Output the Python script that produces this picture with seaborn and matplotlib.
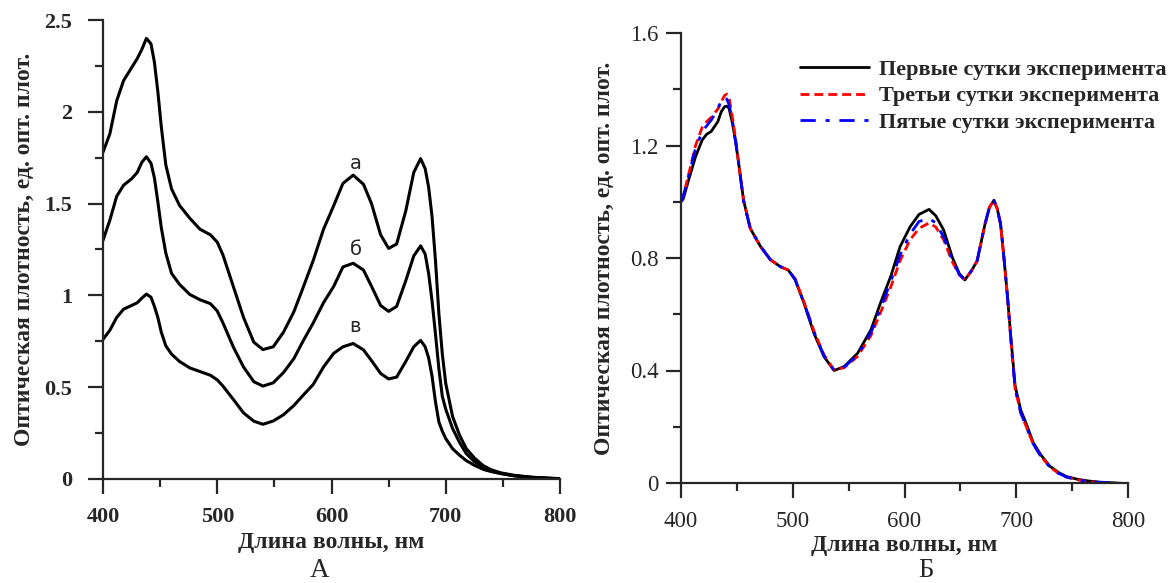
import numpy as np
import pandas as pd
import matplotlib
matplotlib.use("Agg")
import matplotlib.pyplot as plt
import seaborn as sns

# ---- data: panel A (three spectra а, б, в) ----
wl_left = [400, 406, 412, 418, 425, 430, 434, 438, 442, 445, 448, 451, 455, 460, 467, 476, 485, 494,
           500, 505, 514, 523, 532, 540, 549, 558, 567, 575, 584, 593, 602, 610, 619, 628, 635, 643,
           650, 657, 665, 672, 678, 682, 685, 688, 691, 694, 697, 700, 706, 712, 718, 725, 733, 740,
           748, 760, 775, 790, 800]
curve_a = [1.78, 1.88, 2.06, 2.17, 2.24, 2.29, 2.34, 2.40, 2.37, 2.27, 2.11, 1.92, 1.71, 1.58, 1.49, 1.42, 1.36, 1.33,
           1.29, 1.22, 1.05, 0.88, 0.745, 0.705, 0.72, 0.80, 0.91, 1.04, 1.19, 1.36, 1.49, 1.61, 1.655, 1.605, 1.50, 1.33,
           1.256, 1.28, 1.46, 1.67, 1.745, 1.69, 1.59, 1.43, 1.19, 0.90, 0.68, 0.52, 0.34, 0.24, 0.165, 0.115, 0.072, 0.05,
           0.034, 0.02, 0.01, 0.005, 0.002]
curve_b = [1.30, 1.41, 1.54, 1.60, 1.635, 1.67, 1.725, 1.755, 1.72, 1.64, 1.51, 1.37, 1.23, 1.12, 1.06, 1.005, 0.976, 0.955,
           0.915, 0.85, 0.72, 0.61, 0.53, 0.506, 0.524, 0.58, 0.655, 0.75, 0.85, 0.96, 1.05, 1.155, 1.175, 1.138, 1.05, 0.945,
           0.913, 0.94, 1.08, 1.215, 1.27, 1.225, 1.12, 0.97, 0.79, 0.60, 0.45, 0.38, 0.275, 0.20, 0.138, 0.095, 0.064, 0.044,
           0.03, 0.018, 0.009, 0.004, 0.001]
curve_v = [0.76, 0.81, 0.88, 0.925, 0.945, 0.96, 0.985, 1.007, 0.99, 0.94, 0.88, 0.80, 0.725, 0.68, 0.64, 0.605, 0.585, 0.565,
           0.54, 0.506, 0.434, 0.36, 0.315, 0.298, 0.316, 0.35, 0.40, 0.455, 0.515, 0.61, 0.685, 0.72, 0.738, 0.703, 0.645, 0.575,
           0.545, 0.555, 0.64, 0.72, 0.755, 0.72, 0.66, 0.56, 0.42, 0.31, 0.26, 0.22, 0.165, 0.13, 0.10, 0.075, 0.052, 0.04,
           0.03, 0.017, 0.008, 0.003, 0.0]
curve_names = ["а", "б", "в"]
curve_label_pos = [(621, 1.72), (621, 1.25), (621, 0.83)]

# ---- data: panel Б (three days) ----
wl_right = [400, 402, 407, 413, 419, 423, 427, 433, 436, 439, 441, 443, 446, 449, 452, 456, 462, 471, 480, 489,
            496, 502, 510, 519, 528, 537, 546, 558, 570, 579, 588, 596, 605, 613, 622, 628, 635, 643, 649, 654,
            660, 665, 672, 676, 680, 683, 686, 689, 692, 696, 699, 704, 710, 715, 722, 730, 738, 745, 755, 765,
            775, 790, 800]
day1 = [1.00, 1.01, 1.08, 1.16, 1.22, 1.24, 1.25, 1.285, 1.32, 1.338, 1.34, 1.332, 1.28, 1.21, 1.125, 1.005, 0.905, 0.842, 0.794, 0.769,
        0.757, 0.724, 0.64, 0.532, 0.449, 0.40, 0.414, 0.461, 0.545, 0.645, 0.738, 0.84, 0.911, 0.955, 0.973, 0.95, 0.90, 0.80, 0.745, 0.722,
        0.755, 0.79, 0.92, 0.98, 1.005, 0.975, 0.92, 0.80, 0.67, 0.48, 0.345, 0.26, 0.20, 0.145, 0.10, 0.06, 0.037, 0.023, 0.013, 0.007,
        0.003, 0.0, -0.004]
day3 = [1.00, 1.02, 1.10, 1.20, 1.265, 1.285, 1.30, 1.33, 1.355, 1.378, 1.383, 1.37, 1.30, 1.22, 1.125, 1.005, 0.905, 0.842, 0.794, 0.769,
        0.757, 0.726, 0.645, 0.54, 0.455, 0.402, 0.41, 0.45, 0.525, 0.61, 0.70, 0.79, 0.865, 0.905, 0.925, 0.91, 0.865, 0.785, 0.74, 0.722,
        0.755, 0.79, 0.92, 0.98, 1.005, 0.975, 0.92, 0.80, 0.67, 0.47, 0.335, 0.25, 0.19, 0.14, 0.095, 0.057, 0.034, 0.021, 0.011, 0.005,
        0.001, -0.004, -0.01]
day5 = [1.00, 1.02, 1.095, 1.19, 1.25, 1.27, 1.29, 1.33, 1.36, 1.372, 1.365, 1.345, 1.29, 1.21, 1.125, 1.0, 0.905, 0.842, 0.794, 0.769,
        0.757, 0.725, 0.642, 0.537, 0.452, 0.40, 0.412, 0.455, 0.535, 0.625, 0.72, 0.81, 0.885, 0.93, 0.94, 0.925, 0.875, 0.79, 0.742, 0.722,
        0.755, 0.79, 0.92, 0.98, 1.005, 0.975, 0.92, 0.80, 0.67, 0.47, 0.335, 0.25, 0.19, 0.14, 0.095, 0.057, 0.034, 0.021, 0.011, 0.005,
        0.002, 0.0, -0.003]
day_names = ["Первые сутки эксперимента", "Третьи сутки эксперимента", "Пятые сутки эксперимента"]

x_ticks = [400, 500, 600, 700, 800]
x_ticklabels = ["400", "500", "600", "700", "800"]
yA_ticks = [0, 0.5, 1, 1.5, 2, 2.5]
yA_ticklabels = ["0", "0.5", "1", "1.5", "2", "2.5"]
yB_ticks = [0, 0.4, 0.8, 1.2, 1.6]
yB_ticklabels = ["0", "0.4", "0.8", "1.2", "1.6"]

xlabel = "Длина волны, нм"
ylabel = "Оптическая плотность, ед. опт. плот."

sns.set_style("ticks")
plt.rcParams['font.family'] = ['Liberation Serif', 'DejaVu Serif']
plt.rcParams['axes.linewidth'] = 1.6

fig = plt.figure(figsize=(11.75, 5.83), dpi=100)
axA = fig.add_axes([103 / 1175, 104 / 583, 457 / 1175, 459 / 583])
axB = fig.add_axes([681 / 1175, 100 / 583, 447 / 1175, 450 / 583])

# panel A
dfA = pd.DataFrame({"wl": wl_left, "а": curve_a, "б": curve_b, "в": curve_v})
for name in curve_names:
    sns.lineplot(data=dfA, x="wl", y=name, ax=axA, color="black", lw=2.2, sort=False)
for name, (px, py) in zip(curve_names, curve_label_pos):
    axA.text(px, py, name, family="DejaVu Sans", fontsize=14, ha="center", va="center")

# panel Б
dfB = pd.DataFrame({"wl": wl_right, "d1": day1, "d3": day3, "d5": day5})
sns.lineplot(data=dfB, x="wl", y="d1", ax=axB, color="black", lw=2, label=day_names[0], sort=False)
sns.lineplot(data=dfB, x="wl", y="d3", ax=axB, color="red", lw=2, linestyle=(0, (3.2, 1.8)),
             label=day_names[1], sort=False)
sns.lineplot(data=dfB, x="wl", y="d5", ax=axB, color="blue", lw=2, linestyle=(0, (5.5, 3.5, 1.5, 3.5)),
             label=day_names[2], sort=False)

for ax in (axA, axB):
    sns.despine(ax=ax)
    ax.set_xlim(400, 800)
    ax.set_xticks(x_ticks)
    ax.set_xticklabels(x_ticklabels)
    ax.set_xticks([450, 550, 650, 750], minor=True)
    ax.tick_params(which="major", direction="out", length=11, width=1.6)
    ax.tick_params(which="minor", direction="out", length=5.5, width=1.6)
    ax.tick_params(axis="x", which="major", pad=9)

axA.tick_params(axis="y", which="major", pad=11)
axB.tick_params(axis="y", which="major", pad=5)

axA.set_ylim(0, 2.5)
axA.set_yticks(yA_ticks)
axA.set_yticklabels(yA_ticklabels)
axA.set_yticks([0.25, 0.75, 1.25, 1.75, 2.25], minor=True)
for lab in axA.get_xticklabels() + axA.get_yticklabels():
    lab.set_fontweight("bold")
    lab.set_fontsize(16)
axA.set_xlabel(xlabel, fontsize=17, fontweight="bold", labelpad=4)
axA.set_ylabel(ylabel, fontsize=17, fontweight="bold", labelpad=7)

axB.set_ylim(0, 1.6)
axB.set_yticks(yB_ticks)
axB.set_yticklabels(yB_ticklabels)
axB.set_yticks([0.2, 0.6, 1.0, 1.4], minor=True)
for lab in axB.get_xticklabels() + axB.get_yticklabels():
    lab.set_fontsize(16.5)
axB.set_xlabel(xlabel, fontsize=17, fontweight="bold", labelpad=2)
axB.set_ylabel(ylabel, fontsize=17, fontweight="bold", labelpad=11)

axB.legend(loc="upper left", bbox_to_anchor=(800 / 1175, 1 - 59 / 583), bbox_transform=fig.transFigure,
           frameon=False, borderpad=0, borderaxespad=0, prop={"weight": "bold", "size": 16},
           handlelength=3.1, handletextpad=0.45, labelspacing=0.28)

fig.text(320 / 1175, 1 - 577 / 583, "А", fontsize=19.5, ha="center", va="baseline")
fig.text(926 / 1175, 1 - 577 / 583, "Б", fontsize=19.5, ha="center", va="baseline")

plt.savefig("out.png", dpi=100)
